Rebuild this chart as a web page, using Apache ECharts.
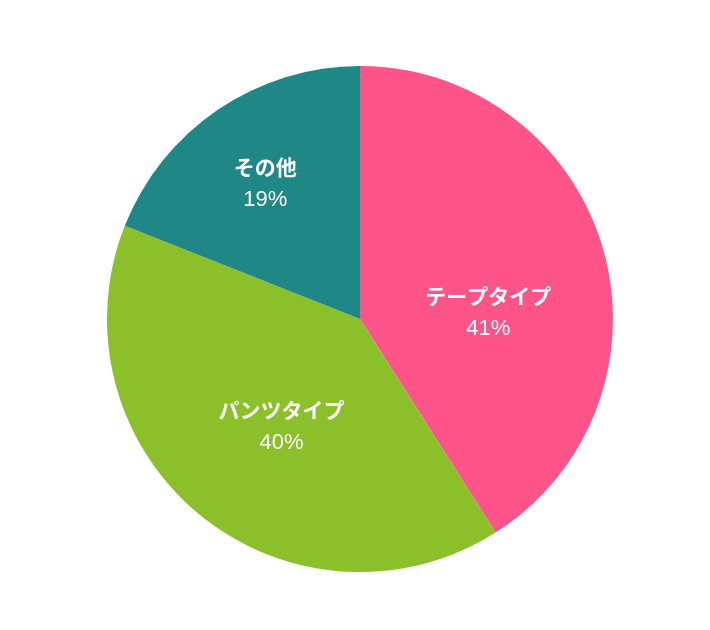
<!DOCTYPE html>
<html><head><meta charset="utf-8">
<script src="https://cdn.jsdelivr.net/npm/echarts@6/dist/echarts.min.js"></script>
<style>html,body{margin:0;padding:0;background:#fff}#c{width:710px;height:630px}</style>
</head><body><div id="c"></div>
<script>
const categories = ['テープタイプ', 'パンツタイプ', 'その他'];
const values = [41, 40, 19];
const colors = ['#FF5489', '#8BC02A', '#1F8886'];
const labelShift = [[4, 31], [4, 9], [-22, -27]];

const chart = echarts.init(document.getElementById('c'));
chart.setOption({
  animation: false,
  series: [{
    type: 'pie',
    center: [360, 319],
    radius: 253,
    startAngle: 90,
    clockwise: true,
    data: categories.map((n, i) => ({ name: n, value: values[i], itemStyle: { color: colors[i] } })),
    label: {
      show: true,
      position: 'inside',
      formatter: '{n|{b}}\n{p|{c}%}',
      rich: {
        n: { fontFamily: 'Liberation Sans, Noto Sans CJK JP', fontWeight: 'bold', fontSize: 21, color: '#fff', lineHeight: 31 },
        p: { fontFamily: 'Liberation Sans, Noto Sans CJK JP', fontSize: 22, color: '#fff', lineHeight: 31 }
      }
    },
    labelLayout: function (p) {
      const s = labelShift[p.dataIndex];
      return { dx: s[0], dy: s[1] };
    },
    labelLine: { show: false },
    emphasis: { disabled: true }
  }]
});
</script></body></html>
